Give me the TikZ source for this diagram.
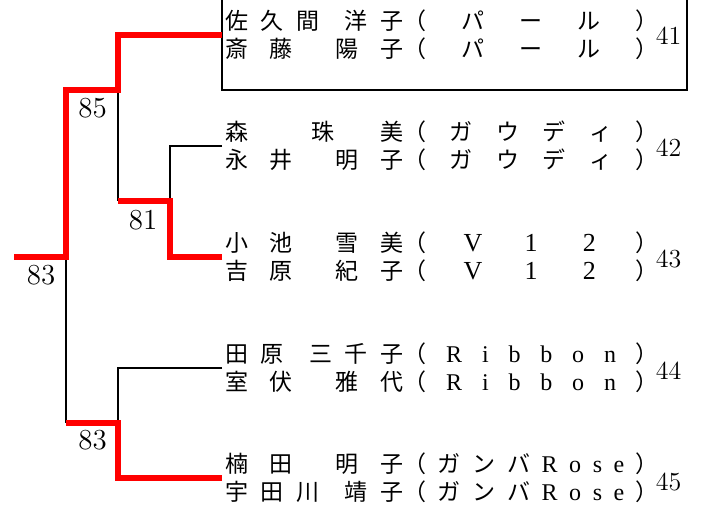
\documentclass[tikz,border=0pt]{standalone}
\usepackage{fontspec}
\newfontfamily\jpfont{Noto Sans CJK JP}
\newfontfamily\ltfont{Liberation Serif}

% name and team fields, spread over a fixed width
\newcommand\nm[1]{\makebox[89pt][s]{#1}}
\newcommand\tm[1]{\makebox[104.75pt][s]{#1}}
\newcommand\cl{\makebox[0.5em][l]{）}}
\newcommand\fw[1]{\makebox[1em]{\ltfont\fontsize{13}{14}\selectfont #1}}
\newcommand\lt[1]{{\ltfont\fontsize{12}{14}\selectfont #1}}

\newcommand\pearl{\tm{\hfill パ\hfill ー\hfill ル\hfill}}
\newcommand\gaudi{\tm{\hfill ガ\hfill ウ\hfill デ\hfill ィ\hfill}}
\newcommand\vtwelve{\tm{\hfill\fw{V}\hfill\fw{1}\hfill\fw{2}\hfill}}
\newcommand\ribbon{\tm{\hfill\lt{R}\hfill\lt{i}\hfill\lt{b}\hfill\lt{b}\hfill\lt{o}\hfill\lt{n}\hfill}}
\newcommand\rose{\tm{\hfill ガ\hfill ン\hfill バ\hfill\lt{R}\hfill\lt{o}\hfill\lt{s}\hfill\lt{e}\hfill}}

\begin{document}
\begin{tikzpicture}
    [
      x = 0.5pt, y = -0.5pt,
      entry/.style = {anchor=west, inner xsep=1.5pt, inner ysep=0pt, align=left,
                      font=\jpfont\fontsize{11.5}{14}\selectfont},
      seed/.style  = {inner sep=0pt, font=\fontsize{13}{14}\selectfont},
      score/.style = {inner sep=0pt, font=\fontsize{14.5}{15}\selectfont},
      win/.style   = {draw=red, line width=3pt},
      lose/.style  = {draw=black, line width=1.3pt},
    ]
    \useasboundingbox (0,0) rectangle (701,511);

    % pairs
    \node[entry] (t41) at (222,35)
      {\nm{佐\hfill 久\hfill 間\hfill\hfill 洋\hfill 子}（\pearl\cl\\
       \nm{斎\hfill 藤\hfill\hfill 陽\hfill 子}（\pearl\cl};
    \node[entry] (t42) at (222,146)
      {\nm{森\hskip 0pt plus 1.4fill 珠\hfill 美}（\gaudi\cl\\
       \nm{永\hfill 井\hfill\hfill 明\hfill 子}（\gaudi\cl};
    \node[entry] (t43) at (222,257)
      {\nm{小\hfill 池\hfill\hfill 雪\hfill 美}（\vtwelve\cl\\
       \nm{吉\hfill 原\hfill\hfill 紀\hfill 子}（\vtwelve\cl};
    \node[entry] (t44) at (222,368)
      {\nm{田\hfill 原\hfill\hfill 三\hfill 千\hfill 子}（\ribbon\cl\\
       \nm{室\hfill 伏\hfill\hfill 雅\hfill 代}（\ribbon\cl};
    \node[entry] (t45) at (222,478)
      {\nm{楠\hfill 田\hfill\hfill 明\hfill 子}（\rose\cl\\
       \nm{宇\hfill 田\hfill 川\hfill\hfill 靖\hfill 子}（\rose\cl};

    % seed numbers
    \node[seed] (n41) at (668.5,36) {41};
    \node[seed] (n42) at (668.5,147.5) {42};
    \node[seed] (n43) at (668.5,259) {43};
    \node[seed] (n44) at (668.5,371) {44};
    \node[seed] (n45) at (668.5,482) {45};

    % frame round the top pair
    \draw[lose] (222,-5) |- (687,90) -- (687,-5);

    % match points
    \coordinate (mA) at (170,201);
    \coordinate (mB) at (118,90);
    \coordinate (mC) at (118,423);
    \coordinate (mF) at (66,257);
    \coordinate (champ) at (14,257);

    % losing lines
    \draw[lose] (t42.west) -| (mA);
    \draw[lose] (mB) -- (mB |- mA);
    \draw[lose] (t44.west) -| (mC);
    \draw[lose] (mF) -- (mF |- mC);

    % winning lines
    \draw[win] (t43.west) -| (mA) -- (mA -| mB);
    \draw[win] (t41.west) -| (mB) -| (mF) -- (champ);
    \draw[win] (t45.west) -| (mC) -- (mC -| mF);

    % scores
    \node[score] (rB) at (92.5,108) {85};
    \node[score] (rA) at (143,220) {81};
    \node[score] (rF) at (41,275) {83};
    \node[score] (rC) at (92.5,440) {83};

  \end{tikzpicture}
\end{document}
